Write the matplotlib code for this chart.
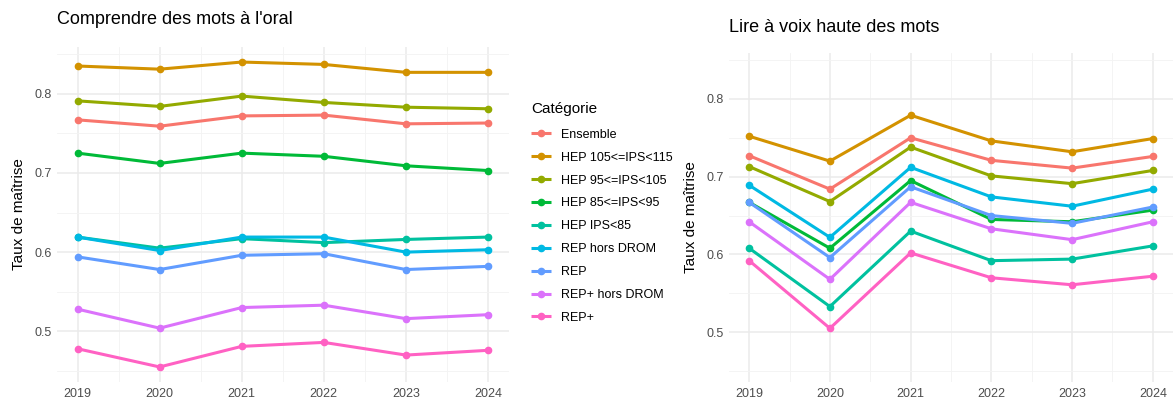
import matplotlib.pyplot as plt
from matplotlib.ticker import MultipleLocator

plt.rcParams['font.family'] = ['Liberation Sans', 'DejaVu Sans']

annees = [2019, 2020, 2021, 2022, 2023, 2024]
categories = ['Ensemble', 'HEP 105<=IPS<115', 'HEP 95<=IPS<105', 'HEP 85<=IPS<95',
              'HEP IPS<85', 'REP hors DROM', 'REP', 'REP+ hors DROM', 'REP+']
couleurs = ['#F8766D', '#D39200', '#93AA00', '#00BA38', '#00C19F',
            '#00B9E3', '#619CFF', '#DB72FB', '#FF61C3']

# Comprendre des mots à l'oral
oral_ensemble = [0.767, 0.759, 0.772, 0.773, 0.762, 0.763]
oral_hep105 = [0.835, 0.831, 0.840, 0.837, 0.827, 0.827]
oral_hep95 = [0.791, 0.784, 0.797, 0.789, 0.783, 0.781]
oral_hep85 = [0.725, 0.712, 0.725, 0.721, 0.709, 0.703]
oral_hepips85 = [0.619, 0.605, 0.617, 0.612, 0.616, 0.619]
oral_rep_hd = [0.619, 0.602, 0.619, 0.619, 0.600, 0.603]
oral_rep = [0.594, 0.578, 0.596, 0.598, 0.578, 0.582]
oral_repp_hd = [0.528, 0.504, 0.530, 0.533, 0.516, 0.521]
oral_repp = [0.478, 0.455, 0.481, 0.486, 0.470, 0.476]

# Lire à voix haute des mots
lire_ensemble = [0.727, 0.684, 0.750, 0.721, 0.711, 0.726]
lire_hep105 = [0.752, 0.720, 0.779, 0.746, 0.732, 0.749]
lire_hep95 = [0.713, 0.668, 0.738, 0.701, 0.691, 0.708]
lire_hep85 = [0.667, 0.608, 0.695, 0.645, 0.642, 0.657]
lire_hepips85 = [0.608, 0.533, 0.630, 0.592, 0.594, 0.611]
lire_rep_hd = [0.689, 0.622, 0.712, 0.674, 0.662, 0.684]
lire_rep = [0.667, 0.596, 0.687, 0.650, 0.640, 0.661]
lire_repp_hd = [0.642, 0.568, 0.667, 0.633, 0.619, 0.642]
lire_repp = [0.592, 0.505, 0.602, 0.570, 0.561, 0.572]

oral = [oral_ensemble, oral_hep105, oral_hep95, oral_hep85, oral_hepips85,
        oral_rep_hd, oral_rep, oral_repp_hd, oral_repp]
lire = [lire_ensemble, lire_hep105, lire_hep95, lire_hep85, lire_hepips85,
        lire_rep_hd, lire_rep, lire_repp_hd, lire_repp]

W, H = 1173, 403
fig = plt.figure(figsize=(W / 100, H / 100), dpi=100)


def panneau(x0, x1, y0, y1, series, titre, ty):
    ax = fig.add_axes([x0 / W, 1 - y1 / H, (x1 - x0) / W, (y1 - y0) / H])
    for vals, nom, c in zip(series, categories, couleurs):
        ax.plot(annees, vals, color=c, lw=2.2, marker='o', ms=4.5, label=nom,
                solid_capstyle='butt')
    ax.set_xlim(2018.75, 2024.25)
    ax.set_ylim(0.436, 0.859)
    ax.set_xticks(annees)
    ax.yaxis.set_major_locator(MultipleLocator(0.1))
    ax.yaxis.set_minor_locator(MultipleLocator(0.05))
    ax.xaxis.set_minor_locator(MultipleLocator(0.5))
    ax.set_yticks([0.5, 0.6, 0.7, 0.8])
    ax.set_yticklabels(['0.5', '0.6', '0.7', '0.8'])
    ax.grid(which='major', color='#EBEBEB', lw=1.1)
    ax.grid(which='minor', color='#F3F3F3', lw=0.6)
    ax.set_axisbelow(True)
    for s in ax.spines.values():
        s.set_visible(False)
    ax.tick_params(which='both', length=0, labelsize=9, labelcolor='#4D4D4D', pad=4)
    ax.set_ylabel('Taux de maîtrise', fontsize=11, color='black', labelpad=6)
    fig.text(x0 / W, 1 - ty / H, titre, fontsize=13, va='center', ha='left')
    return ax


ax1 = panneau(57, 508.5, 47, 382, oral, "Comprendre des mots à l'oral", 20)
ax2 = panneau(729, 1173, 53, 382, lire, 'Lire à voix haute des mots', 27)

h, l = ax1.get_legend_handles_labels()
leg = fig.legend(h, l, title='Catégorie', loc='upper left',
                 bbox_to_anchor=(520 / W, 1 - 91 / H), frameon=False,
                 fontsize=9, title_fontsize=11, handlelength=1.6,
                 labelspacing=0.87, alignment='left', handletextpad=0.75)
leg._legend_box.sep = 9

fig.savefig('out.png', dpi=100)
